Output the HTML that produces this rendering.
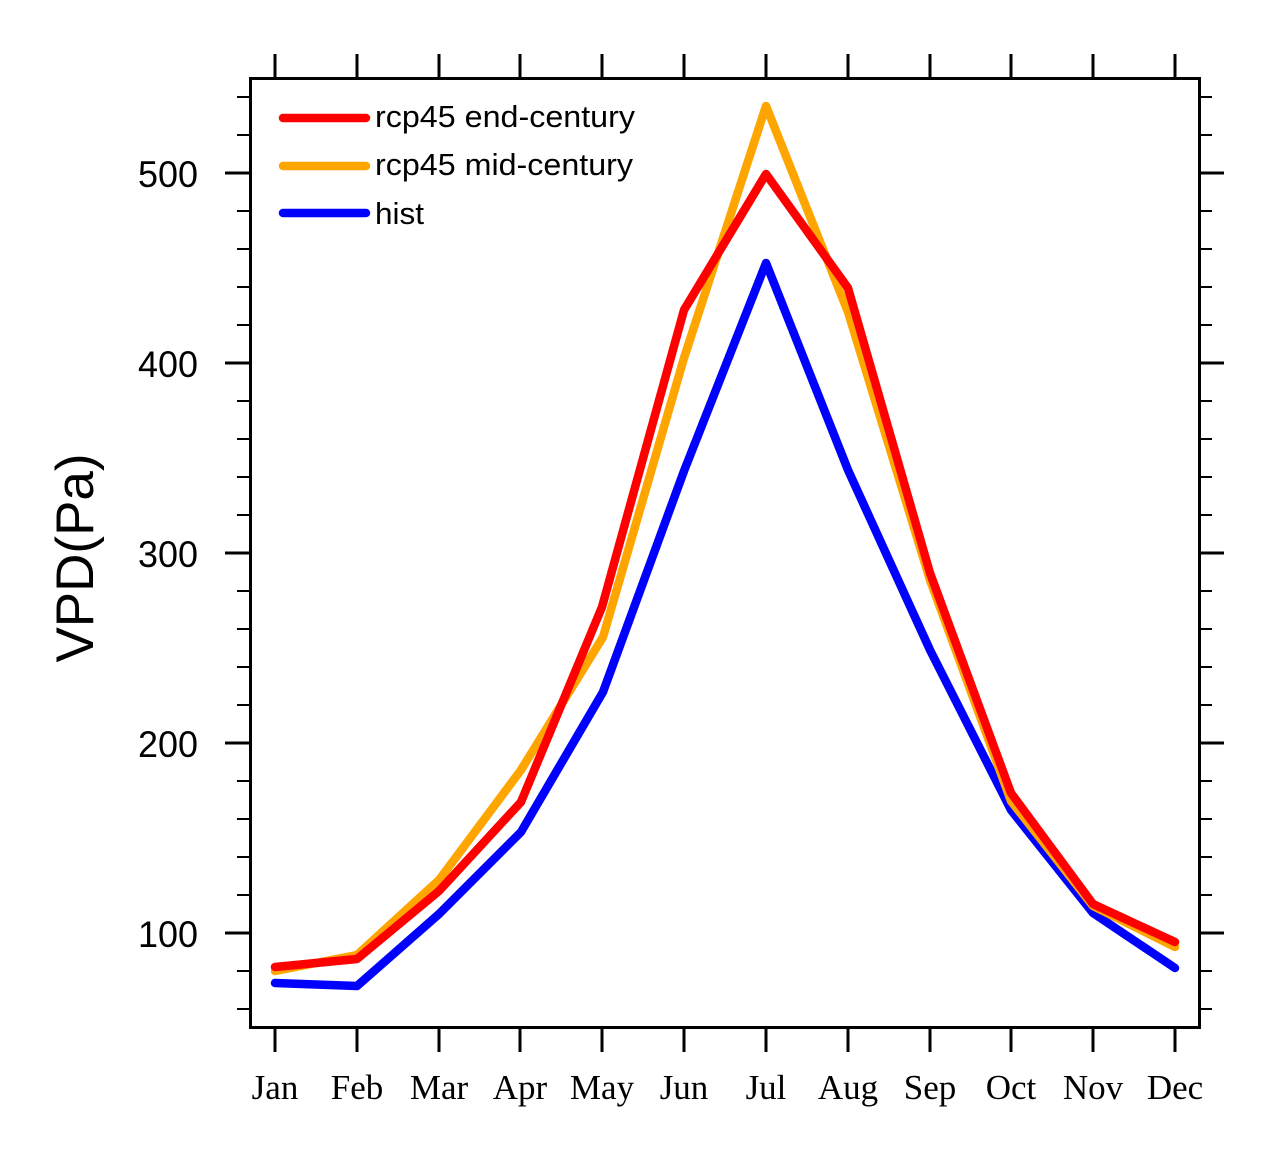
<!DOCTYPE html>
<html>
<head>
<meta charset="utf-8">
<style>
html,body{margin:0;padding:0;background:#fff;}
svg{display:block;}
</style>
</head>
<body>
<svg width="1280" height="1173" viewBox="0 0 1280 1173" xmlns="http://www.w3.org/2000/svg">
<rect x="0" y="0" width="1280" height="1173" fill="#fff"/>

<!-- series -->
<g fill="none" stroke-width="8.5" stroke-linecap="round" stroke-linejoin="round">
<polyline stroke="#0000ff" points="275,983 357,986 439,914 521,832 603,692 684,471 766,263 848,470 930,650 1011,810 1093,913 1175,968"/>
<polyline stroke="#ffa500" points="275,971 357,955 439,880 521,770 603,637 684,358 766,106 848,312 930,580 1011,801 1093,906 1175,947"/>
<polyline stroke="#ff0000" points="275,967 357,959 439,891 521,802 602,607 684,310 766,174 848,288 930,573 1011,793 1093,904 1175,942"/>
</g>

<!-- frame -->
<rect x="250.5" y="78.5" width="949" height="949" fill="none" stroke="#000" stroke-width="3"/>

<!-- x major ticks -->
<g stroke="#000" stroke-width="3">
<line x1="275" y1="78" x2="275" y2="54"/><line x1="275" y1="1027" x2="275" y2="1052"/>
<line x1="357" y1="78" x2="357" y2="54"/><line x1="357" y1="1027" x2="357" y2="1052"/>
<line x1="439" y1="78" x2="439" y2="54"/><line x1="439" y1="1027" x2="439" y2="1052"/>
<line x1="520" y1="78" x2="520" y2="54"/><line x1="520" y1="1027" x2="520" y2="1052"/>
<line x1="602" y1="78" x2="602" y2="54"/><line x1="602" y1="1027" x2="602" y2="1052"/>
<line x1="684" y1="78" x2="684" y2="54"/><line x1="684" y1="1027" x2="684" y2="1052"/>
<line x1="766" y1="78" x2="766" y2="54"/><line x1="766" y1="1027" x2="766" y2="1052"/>
<line x1="848" y1="78" x2="848" y2="54"/><line x1="848" y1="1027" x2="848" y2="1052"/>
<line x1="930" y1="78" x2="930" y2="54"/><line x1="930" y1="1027" x2="930" y2="1052"/>
<line x1="1011" y1="78" x2="1011" y2="54"/><line x1="1011" y1="1027" x2="1011" y2="1052"/>
<line x1="1093" y1="78" x2="1093" y2="54"/><line x1="1093" y1="1027" x2="1093" y2="1052"/>
<line x1="1175" y1="78" x2="1175" y2="54"/><line x1="1175" y1="1027" x2="1175" y2="1052"/>
</g>

<!-- y major ticks -->
<g stroke="#000" stroke-width="3">
<line x1="225" y1="173" x2="250" y2="173"/><line x1="1199" y1="173" x2="1224" y2="173"/>
<line x1="225" y1="363" x2="250" y2="363"/><line x1="1199" y1="363" x2="1224" y2="363"/>
<line x1="225" y1="553" x2="250" y2="553"/><line x1="1199" y1="553" x2="1224" y2="553"/>
<line x1="225" y1="743" x2="250" y2="743"/><line x1="1199" y1="743" x2="1224" y2="743"/>
<line x1="225" y1="933" x2="250" y2="933"/><line x1="1199" y1="933" x2="1224" y2="933"/>
</g>

<!-- y minor ticks -->
<g stroke="#000" stroke-width="2">
<line x1="237" y1="97" x2="250" y2="97"/><line x1="1199" y1="97" x2="1212" y2="97"/>
<line x1="237" y1="135" x2="250" y2="135"/><line x1="1199" y1="135" x2="1212" y2="135"/>
<line x1="237" y1="211" x2="250" y2="211"/><line x1="1199" y1="211" x2="1212" y2="211"/>
<line x1="237" y1="249" x2="250" y2="249"/><line x1="1199" y1="249" x2="1212" y2="249"/>
<line x1="237" y1="287" x2="250" y2="287"/><line x1="1199" y1="287" x2="1212" y2="287"/>
<line x1="237" y1="325" x2="250" y2="325"/><line x1="1199" y1="325" x2="1212" y2="325"/>
<line x1="237" y1="401" x2="250" y2="401"/><line x1="1199" y1="401" x2="1212" y2="401"/>
<line x1="237" y1="439" x2="250" y2="439"/><line x1="1199" y1="439" x2="1212" y2="439"/>
<line x1="237" y1="477" x2="250" y2="477"/><line x1="1199" y1="477" x2="1212" y2="477"/>
<line x1="237" y1="515" x2="250" y2="515"/><line x1="1199" y1="515" x2="1212" y2="515"/>
<line x1="237" y1="591" x2="250" y2="591"/><line x1="1199" y1="591" x2="1212" y2="591"/>
<line x1="237" y1="629" x2="250" y2="629"/><line x1="1199" y1="629" x2="1212" y2="629"/>
<line x1="237" y1="667" x2="250" y2="667"/><line x1="1199" y1="667" x2="1212" y2="667"/>
<line x1="237" y1="705" x2="250" y2="705"/><line x1="1199" y1="705" x2="1212" y2="705"/>
<line x1="237" y1="781" x2="250" y2="781"/><line x1="1199" y1="781" x2="1212" y2="781"/>
<line x1="237" y1="819" x2="250" y2="819"/><line x1="1199" y1="819" x2="1212" y2="819"/>
<line x1="237" y1="857" x2="250" y2="857"/><line x1="1199" y1="857" x2="1212" y2="857"/>
<line x1="237" y1="895" x2="250" y2="895"/><line x1="1199" y1="895" x2="1212" y2="895"/>
<line x1="237" y1="971" x2="250" y2="971"/><line x1="1199" y1="971" x2="1212" y2="971"/>
<line x1="237" y1="1009" x2="250" y2="1009"/><line x1="1199" y1="1009" x2="1212" y2="1009"/>
</g>

<!-- y tick labels -->
<g font-family="'Liberation Sans', Arial, sans-serif" font-size="37" fill="#000" text-anchor="end">
<text x="198" y="187" textLength="60" lengthAdjust="spacingAndGlyphs">500</text>
<text x="198" y="377" textLength="60" lengthAdjust="spacingAndGlyphs">400</text>
<text x="198" y="567" textLength="60" lengthAdjust="spacingAndGlyphs">300</text>
<text x="198" y="757" textLength="60" lengthAdjust="spacingAndGlyphs">200</text>
<text x="198" y="947" textLength="60" lengthAdjust="spacingAndGlyphs">100</text>
</g>

<!-- x tick labels -->
<g font-family="'Liberation Serif', 'Times New Roman', serif" font-size="35" fill="#000" text-anchor="middle">
<text x="275" y="1099">Jan</text>
<text x="357" y="1099">Feb</text>
<text x="439" y="1099">Mar</text>
<text x="520" y="1099">Apr</text>
<text x="602" y="1099">May</text>
<text x="684" y="1099">Jun</text>
<text x="766" y="1099">Jul</text>
<text x="848" y="1099">Aug</text>
<text x="930" y="1099">Sep</text>
<text x="1011" y="1099">Oct</text>
<text x="1093" y="1099">Nov</text>
<text x="1175" y="1099">Dec</text>
</g>

<!-- y axis title -->
<text transform="translate(93,558) rotate(-90)" font-family="'Liberation Sans', Arial, sans-serif" font-size="53" fill="#000" text-anchor="middle">VPD(Pa)</text>

<!-- legend -->
<g stroke-width="8.5" stroke-linecap="round">
<line x1="283" y1="118" x2="366" y2="118" stroke="#ff0000"/>
<line x1="283" y1="166" x2="366" y2="166" stroke="#ffa500"/>
<line x1="283" y1="213" x2="366" y2="213" stroke="#0000ff"/>
</g>
<g font-family="'Liberation Sans', Arial, sans-serif" font-size="31" fill="#000">
<text x="375" y="127" textLength="260" lengthAdjust="spacingAndGlyphs">rcp45 end-century</text>
<text x="375" y="175" textLength="258" lengthAdjust="spacingAndGlyphs">rcp45 mid-century</text>
<text x="375" y="224" textLength="49" lengthAdjust="spacingAndGlyphs">hist</text>
</g>
</svg>
</body>
</html>
